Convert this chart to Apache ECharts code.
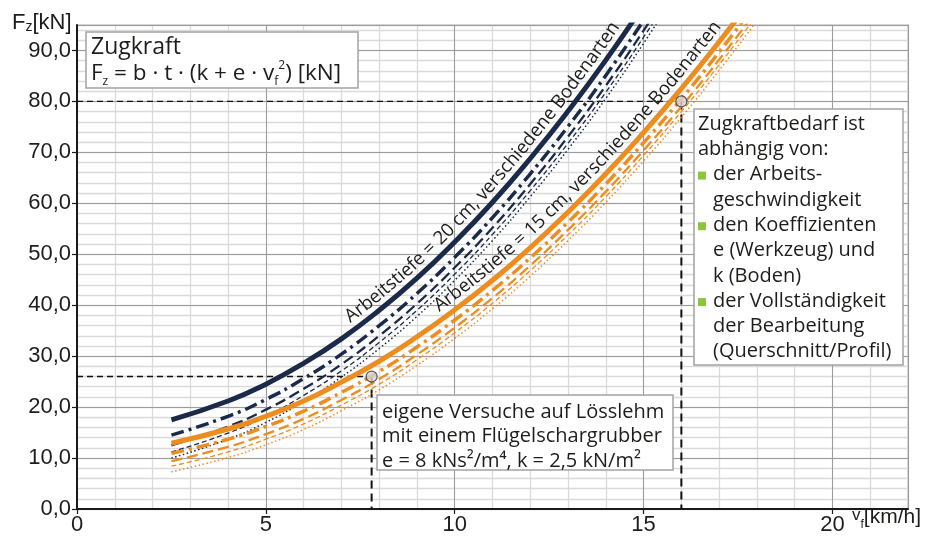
<!DOCTYPE html>
<html><head><meta charset="utf-8">
<script src="https://cdn.jsdelivr.net/npm/echarts@6/dist/echarts.min.js"></script>
<style>html,body{margin:0;padding:0;background:#fff}#c{width:944px;height:536px}</style>
</head><body><div id="c"></div>
<script>
// ---- data ----
const speeds = [2.5, 4, 5, 6, 7, 8, 9, 10, 11, 12, 13, 14, 15, 16, 17, 18];
// working depth 20 cm (navy), different soils
const blue1 = [17.5, 21.2, 24.5, 28.6, 33.4, 39.0, 45.3, 52.4, 60.2, 68.8, 78.1, 88.1, 98.9];
const blue2 = [14.5, 18.2, 21.5, 25.6, 30.4, 36.0, 42.3, 49.4, 57.2, 65.8, 75.1, 85.1, 95.9];
const blue3 = [12.5, 16.2, 19.5, 23.6, 28.4, 34.0, 40.3, 47.4, 55.2, 63.8, 73.1, 83.1, 93.9, 105.4];
const blue4 = [11.2, 14.9, 18.2, 22.3, 27.1, 32.7, 39.0, 46.1, 53.9, 62.5, 71.8, 81.8, 92.6, 104.1];
const blue5 = [10.0, 13.7, 17.0, 21.1, 25.9, 31.5, 37.8, 44.9, 52.7, 61.3, 70.6, 80.6, 91.4, 102.9];
// working depth 15 cm (orange), different soils
const orange1 = [12.9, 15.7, 18.2, 21.2, 24.9, 29.0, 33.8, 39.1, 44.9, 51.3, 58.3, 65.8, 73.9, 82.5, 91.7, 101.4];
const orange2 = [10.9, 13.7, 16.2, 19.2, 22.9, 27.0, 31.8, 37.1, 42.9, 49.3, 56.3, 63.8, 71.9, 80.5, 89.7, 99.4];
const orange3 = [9.4, 12.2, 14.7, 17.7, 21.4, 25.5, 30.3, 35.6, 41.4, 47.8, 54.8, 62.3, 70.4, 79.0, 88.2, 97.9];
const orange4 = [8.4, 11.2, 13.7, 16.7, 20.4, 24.5, 29.3, 34.6, 40.4, 46.8, 53.8, 61.3, 69.4, 78.0, 87.2, 96.9];
const orange5 = [7.3, 10.1, 12.6, 15.6, 19.3, 23.4, 28.2, 33.5, 39.3, 45.7, 52.7, 60.2, 68.3, 76.9, 86.1, 95.8];
// own trials (speed km/h, force kN)
const trialSpeeds = [7.8, 16.0];
const trialForces = [26.0, 80.0];
const xTicks = [0, 5, 10, 15, 20];
const yTicks = [0, 10, 20, 30, 40, 50, 60, 70, 80, 90];

// ---- styling ----
const NAVY = '#1c2a4a', ORANGE = '#ee8d1f';
const NARROW = "'Liberation Sans Narrow','Arial Narrow','Liberation Sans',sans-serif";
const BODY = "'Open Sans','Noto Sans',sans-serif";
const TXT = '#1d1d1b';

const pair = arr => arr.map((y, i) => [speeds[i], y]);
const styles = [
  {w: 5, t: 'solid'},
  {w: 3.5, t: [13, 5, 3, 5]},
  {w: 2.3, t: [11, 5]},
  {w: 1.3, t: [5, 3]},
  {w: 1.5, t: [1.5, 2.5]}
];
const groups = [
  {c: NAVY, d: [blue1, blue2, blue3, blue4, blue5]},
  {c: ORANGE, d: [orange1, orange2, orange3, orange4, orange5]}
];
const series = [];
groups.forEach(g => {
  g.d.forEach((arr, k) => {
    series.push({
      type: 'line', data: pair(arr), smooth: true, symbol: 'none', clip: true,
      xAxisIndex: 0, yAxisIndex: 0, z: 10 - k, silent: true,
      lineStyle: {color: g.c, width: styles[k].w, type: styles[k].t, cap: 'butt'}
    });
  });
});
trialSpeeds.forEach((v, i) => {
  const f = trialForces[i];
  series.push({type: 'line', data: [[0, f], [v, f]], symbol: 'none', silent: true, z: 3,
    lineStyle: {color: '#111', width: 1.4, type: [6, 4]}});
  series.push({type: 'line', data: [[v, f], [v, 0]], symbol: 'none', silent: true, z: 3,
    lineStyle: {color: '#111', width: 2, type: [8, 5]}});
});
series.push({type: 'scatter', data: trialSpeeds.map((v, i) => [v, trialForces[i]]), symbolSize: 11, z: 20, silent: true,
  itemStyle: {color: '#d4d4d4', borderColor: '#333', borderWidth: 1.2}});

const chart = echarts.init(document.getElementById('c'), null, {renderer: 'canvas'});
const lbl = v => v.toFixed(1).replace('.', ',');
chart.setOption({
  animation: false,
  grid: {left: 77, top: 25, right: 36, bottom: 26, show: true, borderColor: '#d2d2d2', borderWidth: 2, backgroundColor: '#fff'},
  xAxis: [
    {type: 'value', min: 0, max: 22, interval: 5, z: 1,
      axisLine: {show: true, onZero: false, lineStyle: {color: '#1a1a1a', width: 2}},
      axisTick: {show: true, length: 5, lineStyle: {color: '#1a1a1a', width: 1.2}},
      axisLabel: {showMaxLabel: false, fontFamily: NARROW, fontSize: 22, color: TXT, margin: 5,
        formatter: v => xTicks.includes(v) ? String(v) : ''},
      splitLine: {show: true, lineStyle: {color: '#9c9c9c', width: 1}}},
    {type: 'value', min: 0, max: 22, interval: 1, z: 0, position: 'bottom',
      axisLine: {show: false}, axisTick: {show: false}, axisLabel: {show: false},
      splitLine: {show: true, lineStyle: {color: '#dadada', width: 1.3}}}
  ],
  yAxis: [
    {type: 'value', min: 0, max: 95, interval: 10, z: 1,
      axisLine: {show: true, onZero: false, lineStyle: {color: '#1a1a1a', width: 2}},
      axisTick: {show: true, length: 5, lineStyle: {color: '#1a1a1a', width: 1.2}},
      axisLabel: {showMaxLabel: false, fontFamily: NARROW, fontSize: 22, color: TXT, margin: 6,
        formatter: v => yTicks.includes(v) ? lbl(v) : ''},
      splitLine: {show: true, lineStyle: {color: '#9c9c9c', width: 1}}},
    {type: 'value', min: 0, max: 95, interval: 2, z: 0, position: 'left',
      axisLine: {show: false}, axisTick: {show: false}, axisLabel: {show: false},
      splitLine: {show: true, lineStyle: {color: '#dadada', width: 1.3}}}
  ],
  series: series
});

// ---- annotations ----
const g = [];
// axis names
g.push({type: 'text', x: 12, y: 22, silent: true, z: 50, style: {
  text: '{a|F}{b|z}{a|[kN]}', verticalAlign: 'middle', align: 'left',
  rich: {a: {fontFamily: NARROW, fontSize: 22, fill: TXT, verticalAlign: 'bottom', lineHeight: 24},
         b: {fontFamily: NARROW, fontSize: 14, fill: TXT, verticalAlign: 'bottom', lineHeight: 20}}}});
g.push({type: 'text', x: 852, y: 519, silent: true, z: 50, style: {
  text: '{v|v}{f|f}{a|[km/h]}', verticalAlign: 'middle', align: 'left',
  rich: {a: {fontFamily: NARROW, fontSize: 21, fill: TXT, verticalAlign: 'top', lineHeight: 24},
         v: {fontFamily: NARROW, fontSize: 17, fill: TXT, verticalAlign: 'top', lineHeight: 24},
         f: {fontFamily: NARROW, fontSize: 12, fill: TXT, verticalAlign: 'bottom', lineHeight: 20}}}});
// formula box
g.push({type: 'rect', z: 40, silent: true, shape: {x: 86, y: 32, width: 272, height: 56},
  style: {fill: '#fff', stroke: '#a3a3a3', lineWidth: 1.5}});
g.push({type: 'text', x: 91, y: 47, z: 41, silent: true, style: {text: 'Zugkraft', font: '23px ' + BODY, fill: TXT, verticalAlign: 'middle', align: 'left'}});
g.push({type: 'text', x: 91, y: 74, z: 41, silent: true, style: {
  text: '{n|F}{s|z}{n| = b · t · (k + e · v}{s|f}{p|2}{n|) [kN]}', verticalAlign: 'middle', align: 'left',
  rich: {n: {fontFamily: BODY, fontSize: 22.5, fill: TXT, lineHeight: 28, verticalAlign: 'middle'},
         s: {fontFamily: BODY, fontSize: 12, fill: TXT, lineHeight: 14, verticalAlign: 'bottom'},
         p: {fontFamily: BODY, fontSize: 12, fill: TXT, lineHeight: 14, verticalAlign: 'top'}}}});
// right box
g.push({type: 'rect', z: 40, silent: true, shape: {x: 694, y: 109, width: 209, height: 256},
  style: {fill: '#fff', stroke: '#a3a3a3', lineWidth: 1.5}});
const rightLines = [
  ['Zugkraftbedarf ist', 0, 0], ['abhängig von:', 0, 0],
  ['der Arbeits-', 1, 1], ['geschwindigkeit', 1, 0],
  ['den Koeffizienten', 1, 1], ['e (Werkzeug) und', 1, 0], ['k (Boden)', 1, 0],
  ['der Vollständigkeit', 1, 1], ['der Bearbeitung', 1, 0], ['(Querschnitt/Profil)', 1, 0]
];
rightLines.forEach((l, i) => {
  const y = 124 + i * 25.3;
  g.push({type: 'text', x: l[1] ? 713 : 698, y: y, z: 41, silent: true,
    style: {text: l[0], font: '20px ' + BODY, fill: TXT, verticalAlign: 'middle', align: 'left'}});
  if (l[2]) g.push({type: 'rect', z: 41, silent: true, shape: {x: 698, y: y - 3, width: 8, height: 8}, style: {fill: '#8cc63f'}});
});
// bottom box
g.push({type: 'rect', z: 40, silent: true, shape: {x: 377, y: 395, width: 296, height: 75},
  style: {fill: '#fff', stroke: '#a3a3a3', lineWidth: 1.5}});
['eigene Versuche auf Lösslehm', 'mit einem Flügelschargrubber', 'e = 8 kNs²/m⁴, k = 2,5 kN/m²'].forEach((t, i) => {
  g.push({type: 'text', x: 382, y: 412 + i * 24.5, z: 41, silent: true,
    style: {text: t, font: '20px ' + BODY, fill: TXT, verticalAlign: 'middle', align: 'left'}});
});

// text along a curve
const ctx = document.createElement('canvas').getContext('2d');
function curveLabel(arr, text, startV, offset, font) {
  const pts = pair(arr).map(p => chart.convertToPixel({xAxisIndex: 0, yAxisIndex: 0}, p));
  const cum = [0];
  for (let i = 1; i < pts.length; i++) cum.push(cum[i - 1] + Math.hypot(pts[i][0] - pts[i - 1][0], pts[i][1] - pts[i - 1][1]));
  const at = s => {
    let i = 0;
    while (i < pts.length - 2 && cum[i + 1] < s) i++;
    const t = (s - cum[i]) / (cum[i + 1] - cum[i]);
    return [pts[i][0] + t * (pts[i + 1][0] - pts[i][0]), pts[i][1] + t * (pts[i + 1][1] - pts[i][1])];
  };
  const sx = chart.convertToPixel({xAxisIndex: 0, yAxisIndex: 0}, [startV, 0])[0];
  let s = 0;
  for (let i = 0; i < pts.length - 1; i++) {
    if (pts[i][0] <= sx && pts[i + 1][0] >= sx) {
      s = cum[i] + (sx - pts[i][0]) / (pts[i + 1][0] - pts[i][0]) * (cum[i + 1] - cum[i]);
      break;
    }
  }
  ctx.font = font;
  for (const ch of text) {
    const w = ctx.measureText(ch).width;
    const mid = s + w / 2;
    const p = at(mid), a = at(mid - 14), b = at(mid + 14);
    const dx = b[0] - a[0], dy = b[1] - a[1], L = Math.hypot(dx, dy);
    const nx = dy / L, ny = -dx / L;
    g.push({type: 'text', x: p[0] + nx * offset, y: p[1] + ny * offset, rotation: -Math.atan2(dy, dx), z: 30, silent: true,
      style: {text: ch, font: font, fill: TXT, align: 'center', verticalAlign: 'bottom'}});
    s += w;
  }
}
const LF = '18.6px ' + BODY;
curveLabel(blue1, 'Arbeitstiefe = 20 cm, verschiedene Bodenarten', 7.35, 3, LF);
curveLabel(orange1, 'Arbeitstiefe = 15 cm, verschiedene Bodenarten', 9.7, 3, LF);

chart.setOption({graphic: g});
</script></body></html>
